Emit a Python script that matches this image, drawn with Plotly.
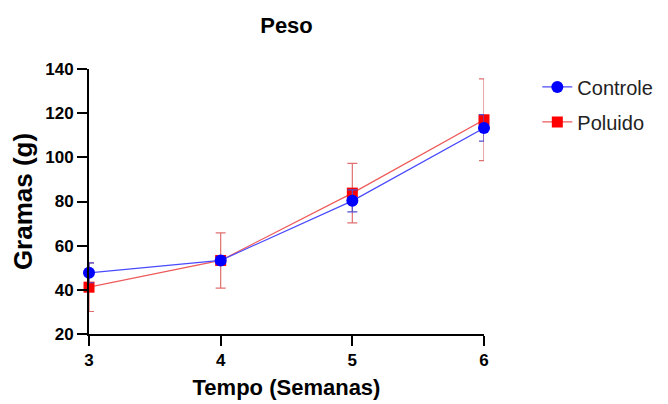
import plotly.graph_objects as go

semanas = [3, 4, 5, 6]
controle = [47.7, 53.3, 80.3, 113.3]
controle_err = [4.5, 1.5, 5.0, 6.0]
poluido = [41.2, 53.3, 83.8, 117.0]
poluido_err = [11.0, 12.5, 13.5, 18.5]
yticks = [20, 40, 60, 80, 100, 120, 140]

FONT = "Arial, Liberation Sans, sans-serif"

fig = go.Figure()
fig.add_trace(go.Scatter(
    x=semanas, y=poluido, name="Poluido", mode="lines+markers",
    line=dict(color="#ee5a5a", width=1.2),
    marker=dict(color="#ff0000", symbol="square", size=11),
    error_y=dict(type="data", array=poluido_err, color="#e07070", thickness=1.2, width=5),
    cliponaxis=False, legendgroup="b", legendrank=2,
))
fig.add_trace(go.Scatter(
    x=semanas, y=controle, name="Controle", mode="lines+markers",
    line=dict(color="#4a4aff", width=1.2),
    marker=dict(color="#0000ff", symbol="circle", size=12),
    error_y=dict(type="data", array=controle_err, color="#5050d0", thickness=1.2, width=5),
    cliponaxis=False, legendgroup="a", legendrank=1,
))

fig.update_layout(
    width=668, height=404,
    margin=dict(l=89, r=184, t=69, b=70, autoexpand=False),
    paper_bgcolor="white", plot_bgcolor="white",
    font=dict(family=FONT, color="black"),
    title=dict(text="<b>Peso</b>", x=0.5, xref="paper", xanchor="center", y=1 - 25/404,
               yref="container", yanchor="middle",
               font=dict(size=22, family=FONT, color="black")),
    legend=dict(x=1.135, y=1.006, xanchor="left", yanchor="top", bgcolor="rgba(0,0,0,0)",
                font=dict(size=20, family=FONT, color="#222"), tracegroupgap=6,
                traceorder="grouped"),
    xaxis=dict(range=[3, 6], tickvals=semanas, ticktext=[f"<b>{s}</b>" for s in semanas],
               showgrid=False, zeroline=False, showline=True, linecolor="black", linewidth=2,
               ticks="outside", ticklen=10, tickwidth=2, tickcolor="black", automargin=False,
               tickfont=dict(size=17, family=FONT, color="black"),
               title=dict(text="<b>Tempo (Semanas)</b>", font=dict(size=22, family=FONT, color="black"), standoff=10)),
    yaxis=dict(range=[20, 140], tickvals=yticks,
               ticktext=[f"<b>{v}</b>" for v in yticks],
               showgrid=False, zeroline=False, showline=True, linecolor="black", linewidth=2,
               ticks="outside", ticklen=10, tickwidth=2, tickcolor="black", automargin=False,
               tickfont=dict(size=17, family=FONT, color="black"),
               title=dict(text="<b>Gramas (g)</b>", font=dict(size=26, family=FONT, color="black"), standoff=5)),
)

fig.write_html("out.html", config={"displayModeBar": False},
               post_script="document.body.style.margin='0';")
